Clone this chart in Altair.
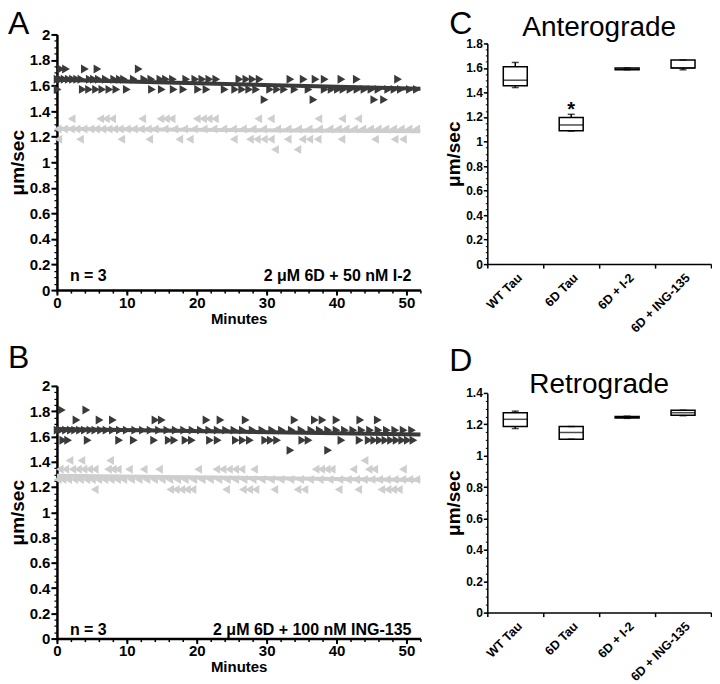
import altair as alt
import pandas as pd

DARK = "#3a3a3a"
LIGHT = "#cecece"
FONT = "Liberation Sans"

# ---------------- Panel A : 2 µM 6D + 50 nM I-2 ----------------
# minutes at which each (quantised) speed was recorded
A_ANT_LEVELS = [1.73, 1.65, 1.57, 1.49]
A_ANT_173 = [0.6, 1.3, 4.0, 5.8, 11.7]
A_ANT_165 = [0.1, 0.6, 1.1, 1.7, 2.3, 2.9, 3.5, 4.7, 5.3, 6.0, 7.0, 8.2, 9.0, 9.6, 11.0,
             12.5, 13.5, 14.8, 15.6, 16.6, 18.5, 19.8, 20.8, 21.8, 22.8, 26.1, 27.1, 28.0,
             29.0, 33.4, 35.3, 37.0, 38.3, 40.7, 42.9, 48.8]
A_ANT_157 = [0.1, 3.7, 4.6, 5.6, 6.5, 7.5, 8.5, 10.0, 13.6, 15.0, 16.7, 18.1, 20.2, 21.4,
             24.0, 25.5, 26.5, 27.5, 28.5, 30.5, 31.5, 32.5, 34.0, 36.0, 38.3, 39.3, 40.2,
             41.0, 42.0, 43.0, 44.0, 45.0, 46.0, 47.4, 48.3, 49.2, 50.5, 51.5]
A_ANT_149 = [29.7, 36.7, 45.4, 46.8]

A_RET_LEVELS = [1.34, 1.26, 1.18, 1.10]
A_RET_134 = [2.1, 6.2, 7.0, 7.9, 12.2, 14.8, 15.6, 16.4, 20.0, 20.9, 21.7, 22.6, 28.8,
             30.6, 37.4, 40.8, 43.1]
A_RET_126 = [0.1, 1.0, 2.0, 2.8, 3.8, 4.8, 5.6, 6.5, 7.4, 8.2, 9.0, 10.0, 11.0, 12.0,
             13.0, 14.0, 15.4, 16.8, 18.2, 19.6, 21.0, 22.4, 23.8, 25.2, 26.6, 28.0, 29.5,
             31.5, 33.0, 34.5, 36.0, 37.5, 39.0, 40.2, 41.3, 42.5, 43.7, 44.8, 45.9, 47.0,
             48.1, 49.2, 50.3, 51.4]
A_RET_118 = [0.2, 3.3, 9.2, 13.2, 17.5, 19.0, 25.3, 27.6, 28.6, 29.6, 30.6, 33.0, 35.1,
             36.1, 37.3, 40.7, 45.5, 48.3, 49.5]
A_RET_110 = [31.2, 34.4]

A_ANT_FIT = [1.645, 1.575]
A_RET_FIT = [1.262, 1.242]

# ---------------- Panel B : 2 µM 6D + 100 nM ING-135 ----------------
B_ANT_LEVELS = [1.81, 1.73, 1.65, 1.57, 1.49]
B_ANT_181 = [0.7, 4.2]
B_ANT_173 = [2.8, 6.1, 8.0, 14.1, 15.0, 21.4, 23.4, 27.0, 34.0, 36.9, 38.0, 40.0, 43.4, 45.9]
B_ANT_165 = [0.1, 0.6, 1.3, 2.0, 2.6, 3.3, 4.0, 4.8, 5.5, 6.3, 7.1, 8.0, 9.0, 10.0, 11.2,
             12.3, 13.4, 14.6, 15.8, 17.0, 18.2, 19.4, 20.6, 21.8, 23.0, 24.2, 25.4, 26.6,
             28.0, 29.4, 30.8, 32.2, 33.6, 35.0, 36.4, 37.6, 38.8, 40.0, 41.2, 42.4, 43.6,
             44.8, 46.0, 47.2, 48.4, 49.6, 50.8]
B_ANT_157 = [0.9, 1.6, 4.4, 8.9, 11.0, 13.9, 16.0, 16.8, 18.4, 19.3, 21.9, 23.0, 25.6, 26.6,
             27.6, 29.8, 30.6, 31.5, 35.1, 36.0, 40.7, 43.3, 44.6, 45.4, 46.2, 47.0, 47.8,
             48.6, 49.4, 50.2, 51.0]
B_ANT_149 = [33.4, 38.8]

B_RET_LEVELS = [1.41, 1.34, 1.26, 1.18]
B_RET_141 = [1.8, 3.5, 7.6, 44.0]
B_RET_134 = [0.4, 1.2, 2.2, 3.0, 3.8, 4.6, 5.4, 7.3, 8.0, 8.7, 10.3, 12.4, 14.6, 20.2, 22.8,
             23.7, 24.6, 25.5, 26.4, 28.2, 37.0, 37.8, 38.6, 39.3, 42.4, 44.6, 45.4, 49.5]
B_RET_126 = [0.1, 0.8, 1.6, 2.5, 3.3, 4.2, 5.0, 5.9, 6.8, 7.7, 8.6, 9.5, 10.6, 11.7, 12.8,
             13.9, 15.0, 16.1, 17.2, 18.3, 19.5, 20.7, 21.9, 23.1, 24.3, 25.5, 26.7, 28.0,
             29.3, 30.6, 32.0, 33.4, 34.8, 36.2, 37.6, 39.0, 40.4, 41.6, 42.8, 43.9, 45.0,
             46.1, 47.2, 48.3, 49.4, 50.4, 51.4]
B_RET_118 = [5.4, 16.2, 17.0, 17.8, 18.6, 19.4, 24.2, 26.6, 27.5, 28.4, 31.1, 34.4, 35.4,
             40.3, 43.1, 46.4, 47.3, 48.1, 48.9]

B_ANT_FIT = [1.66, 1.615]
B_RET_FIT = [1.29, 1.255]

FIT_T = [0, 52]
X_TICKS = [0, 10, 20, 30, 40, 50]
X_MINOR = [0, 2, 4, 6, 8, 10, 12, 14, 16, 18, 20, 22, 24, 26, 28, 30, 32, 34, 36, 38, 40,
           42, 44, 46, 48, 50, 52]
Y_TICKS_AB = [0, 0.2, 0.4, 0.6, 0.8, 1, 1.2, 1.4, 1.6, 1.8, 2]

# ---------------- Panels C / D : box plots ----------------
CATS = ["WT Tau", "6D Tau", "6D + I-2", "6D + ING-135"]
C_LOW = [1.44, 1.085, 1.585, 1.585]
C_Q1 = [1.455, 1.088, 1.585, 1.60]
C_MED = [1.50, 1.135, 1.59, 1.60]
C_Q3 = [1.61, 1.195, 1.60, 1.665]
C_HIGH = [1.645, 1.222, 1.60, 1.665]
C_SIG = ["", "*", "", ""]
C_YTICKS = [0, 0.2, 0.4, 0.6, 0.8, 1, 1.2, 1.4, 1.6, 1.8]

D_LOW = [1.173, 1.105, 1.238, 1.255]
D_Q1 = [1.186, 1.105, 1.240, 1.257]
D_MED = [1.232, 1.148, 1.245, 1.274]
D_Q3 = [1.274, 1.186, 1.250, 1.289]
D_HIGH = [1.284, 1.186, 1.252, 1.29]
D_SIG = ["", "", "", ""]
D_YTICKS = [0, 0.2, 0.4, 0.6, 0.8, 1, 1.2, 1.4]

W_AB = 364
H_A = 256
H_B = 253
W_CD = 224


def rows_from(levels, lists, series):
    out = []
    for lv, ts in zip(levels, lists):
        for t in ts:
            out.append({"t": t, "v": lv, "s": series})
    return out


def scatter_panel(ant_lv, ant_lists, ret_lv, ret_lists, ant_fit, ret_fit,
                  letter, note, h, note_y, letter_y):
    ant = pd.DataFrame(rows_from(ant_lv, ant_lists, "ant"))
    ret = pd.DataFrame(rows_from(ret_lv, ret_lists, "ret"))
    ant_line = pd.DataFrame({"t": FIT_T, "v": ant_fit})
    ret_line = pd.DataFrame({"t": FIT_T, "v": ret_fit})
    xs = alt.Scale(domain=[0, 52], nice=False, zero=False)
    ys = alt.Scale(domain=[0, 2], nice=False)
    x_major = alt.Axis(values=X_TICKS, format="d", title="Minutes", orient="bottom",
                       tickSize=5, tickWidth=2, domainWidth=2.5, labelFontSize=15,
                       titleFontSize=15, labelPadding=0, titlePadding=1, labelFlush=False)
    y_major = alt.Axis(values=Y_TICKS_AB, format=".1~f", title="μm/sec", orient="left",
                       tickSize=6, tickWidth=2, domainWidth=2.5, labelFontSize=15,
                       titleFontSize=19, labelPadding=1, titlePadding=2, labelFlush=False)
    x_minor = alt.Axis(values=X_MINOR, labels=False, domain=False, title=None,
                       orient="bottom", tickSize=3, tickWidth=1.5)
    y_minor = alt.Axis(values=[i * 0.05 for i in range(41)], labels=False, domain=False,
                       title=None, orient="left", tickSize=3, tickWidth=1.2)

    ret_pts = alt.Chart(ret).mark_point(shape="triangle-left", filled=True, color=LIGHT,
                                        size=80, opacity=1).encode(
        x=alt.X("t:Q", scale=xs, axis=x_major),
        y=alt.Y("v:Q", scale=ys, axis=y_major),
    )
    minor = alt.Chart(ret).mark_point(opacity=0).encode(
        x=alt.X("t:Q", scale=xs, axis=x_minor),
        y=alt.Y("v:Q", scale=ys, axis=y_minor),
    )
    ret_ln = alt.Chart(ret_line).mark_line(color=LIGHT, strokeWidth=4).encode(
        x=alt.X("t:Q", scale=xs, axis=None), y=alt.Y("v:Q", scale=ys, axis=None))
    ant_pts = alt.Chart(ant).mark_point(shape="triangle-right", filled=True, color=DARK,
                                        size=80, opacity=1).encode(
        x=alt.X("t:Q", scale=xs, axis=None), y=alt.Y("v:Q", scale=ys, axis=None))
    ant_ln = alt.Chart(ant_line).mark_line(color=DARK, strokeWidth=4).encode(
        x=alt.X("t:Q", scale=xs, axis=None), y=alt.Y("v:Q", scale=ys, axis=None))

    lab = pd.DataFrame({"letter": [letter], "n": ["n = 3"], "note": [note]})
    letter_t = alt.Chart(lab).mark_text(fontSize=32, font=FONT, align="left",
                                        baseline="alphabetic").encode(
        text="letter:N", x=alt.value(-49), y=alt.value(letter_y))
    n_t = alt.Chart(lab).mark_text(fontSize=16, fontWeight="bold", font=FONT, align="left",
                                   baseline="alphabetic").encode(
        text="n:N", x=alt.value(13), y=alt.value(note_y))
    note_t = alt.Chart(lab).mark_text(fontSize=16, fontWeight="bold", font=FONT,
                                      align="right", baseline="alphabetic").encode(
        text="note:N", x=alt.value(W_AB - 9), y=alt.value(note_y))

    return alt.layer(ret_pts, minor, ret_ln, ant_pts, ant_ln, letter_t, n_t, note_t).resolve_axis(
        x="independent", y="independent").properties(width=W_AB, height=h)


def box_panel(low, q1, med, q3, high, sig, ymax, yticks, h, top, title, letter,
              title_y, letter_y):
    df = pd.DataFrame({"cat": CATS, "low": low, "q1": q1, "med": med, "q3": q3,
                       "high": high, "sig": sig})
    xs = alt.Scale(domain=CATS, paddingInner=0, paddingOuter=0)
    ys = alt.Scale(domain=[0, ymax], range=[h, top], nice=False)
    x_axis = alt.Axis(title=None, labelAngle=-45, tickBand="extent", labelFontSize=12.5,
                      tickSize=4, tickWidth=1.5, domainWidth=1.5, labelPadding=3,
                      orient="bottom")
    y_axis = alt.Axis(values=yticks, format=".1~f", title="μm/sec", tickSize=4,
                      tickWidth=1.5, domainWidth=1.5, labelFontSize=12, titleFontSize=19,
                      labelPadding=1, titlePadding=2, labelFlush=False, orient="left")
    y_minor = alt.Axis(values=[i * 0.05 for i in range(int(round(ymax / 0.05)) + 1)],
                       labels=False, domain=False, title=None, orient="left",
                       tickSize=2, tickWidth=1)
    X = lambda ax=None: alt.X("cat:N", scale=xs, sort=CATS, axis=ax)
    base = alt.Chart(df)
    w_lo = base.mark_rule(color="black", strokeWidth=1.5).encode(
        x=X(x_axis), y=alt.Y("low:Q", scale=ys, axis=y_axis), y2="q1:Q")
    minor = base.mark_point(opacity=0).encode(
        x=X(x_axis), y=alt.Y("med:Q", scale=ys, axis=y_minor))
    w_hi = base.mark_rule(color="black", strokeWidth=1.5).encode(
        x=X(x_axis), y=alt.Y("q3:Q", scale=ys, axis=None), y2="high:Q")
    box = base.mark_bar(fill="white", stroke="black", strokeWidth=1.5, size=24).encode(
        x=X(x_axis), y=alt.Y("q1:Q", scale=ys, axis=None), y2="q3:Q")
    med_t = base.mark_tick(color="black", thickness=1.5, size=24).encode(
        x=X(x_axis), y=alt.Y("med:Q", scale=ys, axis=None))
    cap_lo = base.mark_tick(color="black", thickness=1.5, size=7).encode(
        x=X(x_axis), y=alt.Y("low:Q", scale=ys, axis=None))
    cap_hi = base.mark_tick(color="black", thickness=1.5, size=7).encode(
        x=X(x_axis), y=alt.Y("high:Q", scale=ys, axis=None))
    star = base.mark_text(fontSize=20, fontWeight="bold", font=FONT, baseline="alphabetic",
                          dy=2).encode(
        x=X(x_axis), y=alt.Y("high:Q", scale=ys, axis=None), text="sig:N")
    lab = pd.DataFrame({"letter": [letter], "title": [title]})
    title_t = alt.Chart(lab).mark_text(fontSize=28, font=FONT, align="center",
                                       baseline="alphabetic").encode(
        text="title:N", x=alt.value(W_CD / 2), y=alt.value(title_y))
    letter_t = alt.Chart(lab).mark_text(fontSize=32, font=FONT, align="left",
                                        baseline="alphabetic").encode(
        text="letter:N", x=alt.value(-38), y=alt.value(letter_y))
    return alt.layer(w_lo, minor, w_hi, box, med_t, cap_lo, cap_hi, star, title_t,
                     letter_t).resolve_axis(y="independent").properties(width=W_CD, height=h)


panel_a = scatter_panel(A_ANT_LEVELS, [A_ANT_173, A_ANT_165, A_ANT_157, A_ANT_149],
                        A_RET_LEVELS, [A_RET_134, A_RET_126, A_RET_118, A_RET_110],
                        A_ANT_FIT, A_RET_FIT, "A", "2 μM 6D + 50 nM I-2", H_A, H_A - 9, 0)
panel_b = scatter_panel(B_ANT_LEVELS, [B_ANT_181, B_ANT_173, B_ANT_165, B_ANT_157, B_ANT_149],
                        B_RET_LEVELS, [B_RET_141, B_RET_134, B_RET_126, B_RET_118],
                        B_ANT_FIT, B_RET_FIT, "B", "2 μM 6D + 100 nM ING-135", H_B, H_B - 4,
                        -18)
panel_c = box_panel(C_LOW, C_Q1, C_MED, C_Q3, C_HIGH, C_SIG, 1.8, C_YTICKS, 230, 9,
                    "Anterograde", "C", 2, 0)
panel_d = box_panel(D_LOW, D_Q1, D_MED, D_Q3, D_HIGH, D_SIG, 1.4, D_YTICKS, 227, 7,
                    "Retrograde", "D", 7, -15)

chart = alt.concat(panel_a, panel_c, panel_b, panel_d, columns=2,
                   spacing={"row": 96, "column": 67}, bounds="flush", align="each").properties(
    padding={"left": 0, "top": 0, "right": 0, "bottom": 0}
).configure_view(stroke=None).configure_axis(
    labelFont=FONT, titleFont=FONT, labelColor="black", titleColor="black",
    domainColor="black", tickColor="black", grid=False, labelFontWeight="bold",
    titleFontWeight="bold"
)

chart.save("out.html", embed_options={"renderer": "svg", "actions": False})
